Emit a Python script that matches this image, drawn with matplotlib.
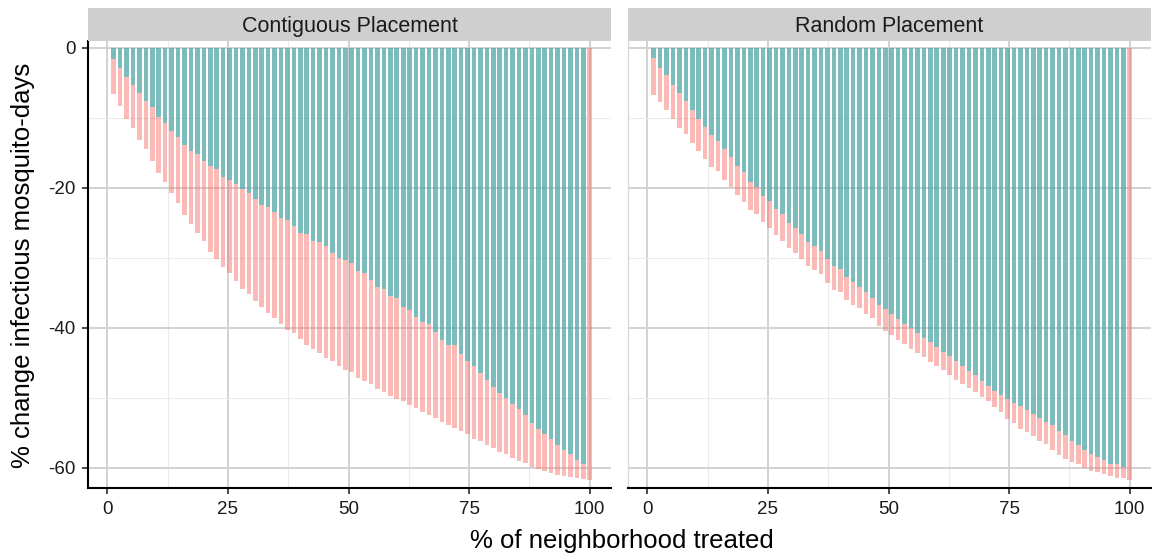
import numpy as np
import matplotlib
matplotlib.use('Agg')
import matplotlib.pyplot as plt

plt.rcParams['font.family'] = ['Liberation Sans', 'DejaVu Sans']

# 75 houses in the neighborhood -> x = % treated
n_houses = 75
pct_treated = np.arange(1, n_houses + 1) * 100.0 / n_houses

panels = ['Contiguous Placement', 'Random Placement']

# total change (pink) and change without spillover (teal), per panel
cont_total = [-6.55, -8.26, -10.1, -11.5, -13.2, -14.4, -16.1, -17.8, -19.1, -20.7,
              -22.2, -23.9, -25.2, -26.5, -27.6, -29.1, -30.1, -31.3, -32.2,
              -33.3, -34.4, -35.2, -36.2, -37.0, -37.9, -38.6, -39.5, -40.3, -40.8,
              -41.6, -42.4, -43.1, -43.6, -44.3, -44.8, -45.4, -46.1,
              -46.3, -47.2, -47.6, -48.1, -48.7, -49.2, -49.7, -50.2, -50.5, -51.1,
              -51.5, -52.0, -52.5, -52.9, -53.5, -53.9, -54.3, -54.7, -55.2,
              -55.9, -56.2, -56.8, -57.2, -57.7, -58.1, -58.6, -59.0, -59.3, -59.9,
              -60.2, -60.5, -60.7, -61.0, -61.2, -61.3, -61.5, -61.6, -61.8]
cont_teal = [-1.57, -2.8, -4.1, -5.27, -6.46, -7.6, -8.45, -9.8, -10.7, -11.8,
             -12.7, -13.8, -14.7, -15.1, -16.1, -16.9, -17.3, -18.4, -18.8,
             -19.5, -20.2, -20.8, -21.6, -22.4, -22.8, -23.4, -24.3, -24.6, -25.4,
             -26.4, -26.6, -27.6, -27.7, -28.3, -29.3, -30.0, -30.3,
             -30.8, -31.9, -32.2, -33.2, -34.1, -34.5, -35.5, -35.8, -37.0, -37.5,
             -38.4, -39.1, -39.4, -40.6, -41.8, -42.5, -42.5, -43.7, -44.8,
             -45.4, -46.4, -47.4, -48.4, -49.3, -50.0, -50.9, -51.6, -52.5, -53.6,
             -54.4, -55.2, -55.9, -56.7, -57.4, -58.1, -58.9, -59.4, 0.0]

rand_total = [-6.7, -7.7, -8.9, -10.2, -11.4, -12.3, -13.6, -14.7, -15.9, -17.0,
              -17.6, -18.8, -19.9, -21.0, -22.0, -23.1, -23.7, -24.9, -25.8,
              -26.8, -27.6, -28.6, -29.3, -30.2, -31.1, -31.7, -32.3, -33.6, -34.6,
              -34.9, -36.0, -36.7, -37.2, -38.0, -38.6, -39.8, -40.4,
              -41.0, -41.7, -42.3, -43.0, -43.6, -44.2, -44.9, -45.5, -46.1, -46.8,
              -47.4, -48.0, -48.6, -49.2, -49.9, -50.5, -51.3,
              -52.0, -53.0, -53.6, -54.4, -54.9, -55.5, -56.2, -56.6, -57.4, -58.2,
              -58.7, -59.2, -59.5, -60.1, -60.4, -60.6, -60.9, -61.2, -61.4, -61.4, -61.8]
rand_teal = [-1.5, -2.8, -3.9, -5.3, -6.5, -7.6, -8.8, -10.1, -11.3, -12.5,
             -13.3, -14.5, -15.6, -16.9, -17.7, -19.1, -19.9, -21.1, -21.9,
             -23.0, -23.8, -25.0, -25.7, -26.6, -27.7, -28.3, -29.0, -30.1, -31.2,
             -31.6, -32.7, -33.5, -34.2, -34.9, -35.7, -36.8, -37.3,
             -38.0, -38.7, -39.4, -40.0, -40.8, -41.4, -42.1, -42.8, -43.4, -44.1,
             -44.8, -45.5, -46.2, -46.8, -47.6, -48.3, -49.0,
             -49.6, -50.2, -50.7, -51.2, -51.8, -52.3, -52.9, -53.4, -53.9, -54.7,
             -55.3, -56.2, -56.7, -57.4, -58.1, -58.5, -58.9, -59.4, -59.4, -59.9, 0.0]

totals = [cont_total, rand_total]
teals = [cont_teal, rand_teal]

x_ticks = [0, 25, 50, 75, 100]
y_ticks = [0, -20, -40, -60]

W, H = 1158, 560
fig = plt.figure(figsize=(W / 100, H / 100), dpi=100)

pink = '#F8766D'
teal = '#00BFC4'
bar_w = 0.95

lefts = [88, 628]
pw = 523
top, bottom = 41, 488

for i, name in enumerate(panels):
    ax = fig.add_axes([lefts[i] / W, 1 - bottom / H, pw / W, (bottom - top) / H])
    ax.set_axisbelow(True)
    ax.bar(pct_treated, totals[i], width=bar_w, color=pink, alpha=0.5, linewidth=0)
    ax.bar(pct_treated, teals[i], width=bar_w, color=teal, alpha=0.5, linewidth=0)

    ax.set_xlim(-4.0, 104.4)
    ax.set_ylim(-62.9, 1.0)
    ax.set_xticks(x_ticks)
    ax.set_xticks([12.5, 37.5, 62.5, 87.5], minor=True)
    ax.set_yticks(y_ticks)
    ax.set_yticks([-10, -30, -50], minor=True)
    ax.grid(which='major', color='#d2d2d2', linewidth=1.4)
    ax.grid(which='minor', color='#ebebeb', linewidth=0.8)
    ax.tick_params(which='minor', length=0)
    ax.tick_params(which='major', labelsize=13.5, colors='#1a1a1a', length=4, width=1.1, pad=5)

    for s in ['top', 'right']:
        ax.spines[s].set_visible(False)
    ax.spines['bottom'].set_color('black')
    ax.spines['bottom'].set_linewidth(1.5)
    if i == 0:
        ax.spines['left'].set_color('black')
        ax.spines['left'].set_linewidth(1.5)
        ax.set_yticklabels([str(v) for v in y_ticks])
    else:
        ax.spines['left'].set_color('#d9d9d9')
        ax.spines['left'].set_linewidth(1.0)
        ax.tick_params(axis='y', left=False, labelleft=False)
    ax.set_xticklabels([str(v) for v in x_ticks])

    # facet strip
    sax = fig.add_axes([lefts[i] / W, 1 - top / H, pw / W, (top - 8) / H])
    sax.set_facecolor('#cfcfcf')
    sax.set_xticks([])
    sax.set_yticks([])
    for s in sax.spines.values():
        s.set_visible(False)
    sax.text(0.5, 0.45, name, ha='center', va='center', fontsize=15.5, color='#1a1a1a',
             transform=sax.transAxes)

fig.text(622 / W, 1 - 541 / H, '% of neighborhood treated', ha='center', va='center', fontsize=18.5)
fig.text(23 / W, 1 - 265 / H, '% change infectious mosquito-days', ha='center', va='center',
         fontsize=18.5, rotation=90)

fig.savefig('out.png', dpi=100, facecolor='white')
